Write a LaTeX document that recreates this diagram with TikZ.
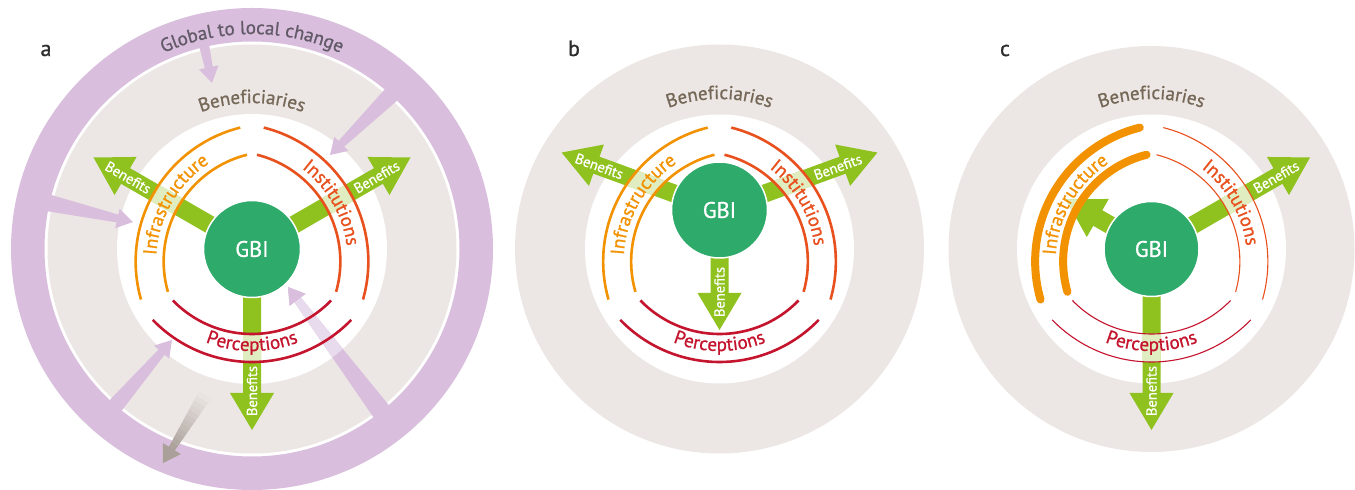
\documentclass[tikz,border=0pt]{standalone}
\usepackage{fontspec}
\setmainfont{PT Sans}[FakeBold=0.9]
\usetikzlibrary{calc,decorations.text}
\definecolor{purp}{RGB}{217,191,221}
\definecolor{purppale}{RGB}{232,219,237}
\definecolor{bggray}{RGB}{236,231,228}
\definecolor{gbigreen}{RGB}{46,170,106}
\definecolor{agreen}{RGB}{143,193,31}
\definecolor{infra}{RGB}{243,146,0}
\definecolor{inst}{RGB}{232,80,30}
\definecolor{perc}{RGB}{196,20,46}
\definecolor{benef}{RGB}{118,104,88}
\definecolor{globtxt}{RGB}{98,90,104}
\definecolor{brownarr}{RGB}{170,160,153}
\definecolor{lbl}{RGB}{45,45,45}

\tikzset{
  gbi/.style={circle,fill=gbigreen,draw=white,line width=1.5pt,minimum size=97pt,inner sep=0pt,text=white,font=\fontsize{22.5}{22.5}\selectfont},
  btext/.style={text=white,inner sep=0pt,font=\fontsize{14.5}{14.5}\selectfont},
  panellbl/.style={text=lbl,anchor=base,inner sep=0pt,font=\fontsize{22}{22}\selectfont},
  arcstd/.style={line width=2.6pt},
  arcthick/.style={line width=8pt,line cap=round},
  arcthin/.style={line width=1.1pt},
}

% purple arrow: #1 name, #2 start, #3 tip, #4 root half width, #5 fill
\newcommand\PurpArrow[5]{%
  \coordinate (#1s) at #2;
  \coordinate (#1t) at #3;
  \coordinate (#1h) at ($(#1t)!16pt!(#1s)$);
  \fill[#5] ($(#1s)!#4!90:(#1t)$) -- ($(#1h)!4pt!90:(#1t)$) -- ($(#1h)!10pt!90:(#1t)$) -- (#1t)
     -- ($(#1h)!10pt!-90:(#1t)$) -- ($(#1h)!4pt!-90:(#1t)$) -- ($(#1s)!#4!-90:(#1t)$) -- cycle;
}
% green benefit arrow: #1 origin, #2 angle, #3 r0, #4 tip radius, #5 band centre
\newcommand\GArrow[5]{%
  \begin{scope}[shift={(#1)},rotate=#2]
    \fill[agreen] (#3,-9) -- ({#4-37},-9) -- ({#4-37},-22) -- (#4,0) -- ({#4-37},22) -- ({#4-37},9) -- (#3,9) -- cycle;
    \begin{scope}
      \clip (#3,-9) -- ({#4-37},-9) -- ({#4-37},-22) -- (#4,0) -- ({#4-37},22) -- ({#4-37},9) -- (#3,9) -- cycle;
      \fill[white,opacity=.72,even odd rule] (#5) circle[radius=138] (#5) circle[radius=110];
    \end{scope}
  \end{scope}}
% pair of arcs: #1 centre, #2 start, #3 end, #4 style
\newcommand\ArcSet[4]{%
  \draw[#4] ($(#1)+(#2:110)$) arc[start angle=#2,end angle=#3,radius=110];
  \draw[#4] ($(#1)+(#2:138)$) arc[start angle=#2,end angle=#3,radius=138];}
% text along arc: #1 centre, #2 start, #3 end, #4 radius, #5 format, #6 text
\newcommand\ArcText[6]{%
  \path[decorate,decoration={text along path,text align=center,text={|#5|#6}}]
    ($(#1)+(#2:#4)$) arc[start angle=#2,end angle=#3,radius=#4];}

\begin{document}
\begin{tikzpicture}[x=1pt,y=1pt]
\useasboundingbox (0,0) rectangle (1355,490);

\coordinate (A) at (252,241);
\coordinate (B) at (719.5,241);
\coordinate (Bg) at (719.5,280);
\coordinate (C) at (1151.5,241);
\foreach \p in {A,B,C}{
  \coordinate (\p i) at ($(\p)+(-30:25)$);
  \coordinate (\p n) at ($(\p)+(210:25)$);
  \coordinate (\p p) at ($(\p)+(90:25)$);
}

% ---------------- panel a ----------------
\fill[purp,even odd rule] (A) circle[radius=241] (A) circle[radius=207.5];
\fill[bggray] (A) circle[radius=204.5];
\fill[white] (A) circle[radius=135];

\PurpArrow{pa}{(202,455)}{(212,407)}{5.5pt}{purp}
\PurpArrow{pb}{(398,402)}{(330,335)}{9pt}{purp}
\PurpArrow{pc}{(40,289)}{(133,268)}{9pt}{purp}
\PurpArrow{pd}{(110,78)}{(172,150)}{8.5pt}{purp}
\PurpArrow{pe}{(384,75)}{(288,203)}{10pt}{purp}
\begin{scope}
  \clip (A) circle[radius=135];
  \fill[purppale] ($(pes)!10pt!90:(pet)$) -- ($(peh)!4pt!90:(pet)$) -- ($(peh)!4pt!-90:(pet)$) -- ($(pes)!10pt!-90:(pet)$) -- cycle;
\end{scope}
\fill[purp] ($(peh)!10pt!90:(pet)$) -- (pet) -- ($(peh)!10pt!-90:(pet)$) -- cycle;

% feedback arrow (fading in)
\begin{scope}[shift={(205,95)},rotate=238.3]
  \foreach \i in {0,...,11}{
    \pgfmathsetmacro\xa{\i*63/12}
    \pgfmathsetmacro\xb{(\i+1)*63/12+0.6}
    \pgfmathsetmacro\wa{7-3.5*\xa/63}
    \pgfmathsetmacro\wb{7-3.5*\xb/63}
    \pgfmathsetmacro\pc{(\i+0.5)*100/12}
    \fill[brownarr!\pc!bggray] (\xa,-\wa) -- (\xb,-\wb) -- (\xb,\wb) -- (\xa,\wa) -- cycle;
  }
  \fill[brownarr] (63,-10.5) -- (80,0) -- (63,10.5) -- cycle;
\end{scope}

\GArrow{A}{150}{30}{183}{Ai}
\GArrow{A}{30}{30}{183}{An}
\GArrow{A}{270}{30}{181}{Ap}

\ArcSet{Ai}{104}{196}{infra,arcstd}
\ArcSet{An}{-16}{76}{inst,arcstd}
\ArcSet{Ap}{224}{316}{perc,arcstd}

\ArcText{Ai}{200}{100}{117.5}{\color{infra}\fontsize{19}{19}\selectfont}{Infrastructure}
\ArcText{An}{80}{-20}{117.5}{\color{inst}\fontsize{19}{19}\selectfont}{Institutions}
\ArcText{Ap}{220}{320}{127}{\color{perc}\fontsize{19}{19}\selectfont}{Perceptions}
\ArcText{A}{140}{40}{146}{\color{benef}\fontsize{19}{19}\selectfont}{Beneficiaries}
\ArcText{A}{150}{30}{215}{\color{globtxt}\fontsize{19}{19}\selectfont}{Global to local change}

\node[btext,rotate=-30] (ba1) at ($(A)+(150:143)$) {Benefits};
\node[btext,rotate=30] (ba2) at ($(A)+(30:144)$) {Benefits};
\node[btext,rotate=90] (ba3) at ($(A)+(270:142)$) {Benefits};
\node[gbi] (gbiA) at (A) {GBI};
\node[panellbl] (la) at (46,434) {a};

% ---------------- panel b ----------------
\fill[bggray] (B) circle[radius=204.5];
\fill[white] (B) circle[radius=134.5];

\GArrow{Bg}{160}{30}{168}{Bi}
\GArrow{Bg}{20}{30}{168}{Bn}
\GArrow{Bg}{270}{30}{120}{Bp}

\ArcSet{Bi}{104}{196}{infra,arcstd}
\ArcSet{Bn}{-16}{76}{inst,arcstd}
\ArcSet{Bp}{224}{316}{perc,arcstd}

\ArcText{Bi}{200}{100}{117.5}{\color{infra}\fontsize{19}{19}\selectfont}{Infrastructure}
\ArcText{Bn}{80}{-20}{117.5}{\color{inst}\fontsize{19}{19}\selectfont}{Institutions}
\ArcText{Bp}{220}{320}{127}{\color{perc}\fontsize{19}{19}\selectfont}{Perceptions}
\ArcText{B}{140}{40}{150}{\color{benef}\fontsize{19}{19}\selectfont}{Beneficiaries}

\node[btext,rotate=-20] (bb1) at ($(Bg)+(160:128)$) {Benefits};
\node[btext,rotate=20] (bb2) at ($(Bg)+(20:126)$) {Benefits};
\node[btext,rotate=90] (bb3) at ($(Bg)+(270:82)$) {Benefits};
\node[gbi,minimum size=96pt] (gbiB) at (Bg) {GBI};
\node[panellbl] (lb) at (574,434) {b};

% ---------------- panel c ----------------
\fill[bggray] (C) circle[radius=203];
\fill[white] (C) circle[radius=134.5];

\GArrow{C}{150}{30}{99}{Ci}
\GArrow{C}{30}{30}{183}{Cn}
\GArrow{C}{270}{30}{181}{Cp}

\ArcSet{Ci}{104}{196}{infra,arcthick}
\ArcSet{Cn}{-16}{76}{inst,arcthin}
\ArcSet{Cp}{224}{316}{perc,arcthin}

\ArcText{Ci}{200}{100}{117.5}{\color{infra}\fontsize{19}{19}\selectfont}{Infrastructure}
\ArcText{Cn}{80}{-20}{117.5}{\color{inst}\fontsize{19}{19}\selectfont}{Institutions}
\ArcText{Cp}{220}{320}{127}{\color{perc}\fontsize{19}{19}\selectfont}{Perceptions}
\ArcText{C}{140}{40}{150}{\color{benef}\fontsize{19}{19}\selectfont}{Beneficiaries}

\node[btext,rotate=30] (bc2) at ($(C)+(30:144)$) {Benefits};
\node[btext,rotate=90] (bc3) at ($(C)+(270:142)$) {Benefits};
\node[gbi,minimum size=95pt] (gbiC) at (C) {GBI};
\node[panellbl] (lc) at (1005,434) {c};
\end{tikzpicture}
\end{document}
